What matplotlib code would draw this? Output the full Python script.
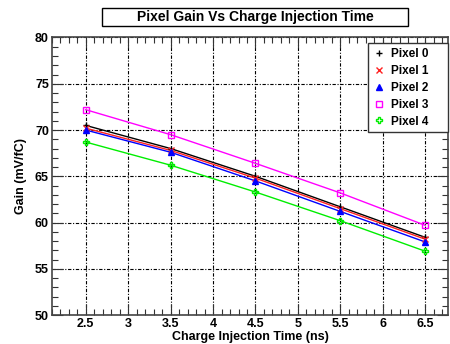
import matplotlib

matplotlib.use("Agg")
import matplotlib.pyplot as plt
from matplotlib.patches import Rectangle
from matplotlib.ticker import MultipleLocator, FixedLocator

plt.rcParams["font.family"] = ["Liberation Sans", "DejaVu Sans"]
plt.rcParams["font.weight"] = "bold"

# injection times (ns) and gains (mV/fC)
times = [2.5, 3.5, 4.5, 5.5, 6.5]
pixel0 = [70.5, 68.0, 65.0, 61.7, 58.4]
pixel1 = [70.2, 67.8, 64.8, 61.5, 58.2]
pixel2 = [70.0, 67.6, 64.5, 61.2, 57.9]
pixel3 = [72.2, 69.5, 66.4, 63.2, 59.7]
pixel4 = [68.7, 66.2, 63.3, 60.2, 56.9]

series = [
    ("Pixel 0", pixel0, "black", "+", "black"),
    ("Pixel 1", pixel1, "#ff2020", "x", "#ff2020"),
    ("Pixel 2", pixel2, "#0000ff", "^", "#0000ff"),
    ("Pixel 3", pixel3, "#ff00ff", "s", "none"),
    ("Pixel 4", pixel4, "#00ee00", "P", "none"),
]

fig = plt.figure(figsize=(4.5, 3.44), dpi=100)
ax = fig.add_axes([0.115, 0.084, 0.881, 0.807])

for name, values, color, marker, face in series:
    ax.plot(times, values, color=color, linewidth=1.0, zorder=3)
    ax.plot(times, values, linestyle="none", marker=marker, color=color,
            markerfacecolor=face, markeredgecolor=color, markersize=5,
            markeredgewidth=1.0, label=name, zorder=4)

ax.set_xlim(2.1, 6.77)
ax.set_ylim(50, 80)
ax.xaxis.set_major_locator(FixedLocator([2.5, 3, 3.5, 4, 4.5, 5, 5.5, 6, 6.5]))
ax.xaxis.set_minor_locator(MultipleLocator(0.1))
ax.yaxis.set_major_locator(MultipleLocator(5))
ax.yaxis.set_minor_locator(MultipleLocator(1))
ax.set_xticklabels(["2.5", "3", "3.5", "4", "4.5", "5", "5.5", "6", "6.5"])
ax.tick_params(which="both", direction="in", top=True, right=True,
               labelsize=9, pad=2, color="#333333")
ax.tick_params(which="major", length=8, width=0.8)
ax.tick_params(which="minor", length=4, width=0.8)
for lab in ax.get_xticklabels() + ax.get_yticklabels():
    lab.set_fontweight("bold")

ax.grid(which="major", color="black", linewidth=0.8,
        linestyle=(0, (3, 1.5, 1, 1.5)))
for spine in ax.spines.values():
    spine.set_linewidth(1.2)
    spine.set_color("#444444")

ax.set_xlabel("Charge Injection Time (ns)", fontsize=9, fontweight="bold",
              labelpad=1)
ax.set_ylabel("Gain (mV/fC)", fontsize=9, fontweight="bold", labelpad=6)

leg = ax.legend(loc="upper left", bbox_to_anchor=(0.798, 0.98, 0.202, 0.0),
                mode="expand", borderaxespad=0, fancybox=False, framealpha=1,
                edgecolor="#333333", fontsize=8.5, handlelength=1.0,
                handletextpad=0.5, labelspacing=0.42, borderpad=0.4)
leg.get_frame().set_linewidth(1.0)
for txt in leg.get_texts():
    txt.set_fontweight("bold")

fig.add_artist(Rectangle((0.2267, 0.9244), 0.68, 0.0523,
                         transform=fig.transFigure, facecolor="white",
                         edgecolor="black", linewidth=1.0))
fig.text(0.567, 0.9506, "Pixel Gain Vs Charge Injection Time", ha="center",
         va="center", fontsize=10, fontweight="bold")

fig.savefig("out.png", dpi=100)
